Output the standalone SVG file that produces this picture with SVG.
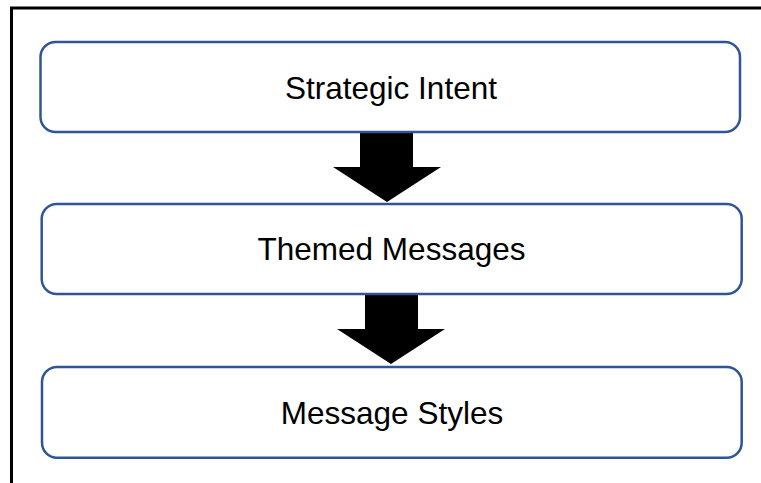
<svg xmlns="http://www.w3.org/2000/svg" width="761" height="483" viewBox="0 0 761 483">
<style>
.box{fill:#fff;stroke:#2F5597;stroke-width:2.5}
.lbl{font-family:"Liberation Sans",Arial,sans-serif;font-size:31.5px;fill:#000;text-anchor:middle}
.arr{fill:#000;stroke:none}
</style>
<rect width="761" height="483" fill="#fff"/>
<g id="frame">
<path d="M11.5 483 V8 H761" fill="none" stroke="#000" stroke-width="3"/>
</g>
<g id="connectors">
<polygon class="arr" points="360,132 413,132 413,167 441,167 387,202 333,167 360,167"/>
<polygon class="arr" points="365,294 418,294 418,329 445,329 391,364 337,329 365,329"/>
</g>
<g id="node-strategic-intent">
<rect class="box" x="40.5" y="42" width="699.5" height="90" rx="15"/>
<text class="lbl" x="391" y="99">Strategic Intent</text>
</g>
<g id="node-themed-messages">
<rect class="box" x="41.7" y="204" width="700" height="90" rx="15"/>
<text class="lbl" x="391.5" y="260">Themed Messages</text>
</g>
<g id="node-message-styles">
<rect class="box" x="42" y="367" width="699.7" height="90.7" rx="15"/>
<text class="lbl" x="392" y="424">Message Styles</text>
</g>
</svg>
